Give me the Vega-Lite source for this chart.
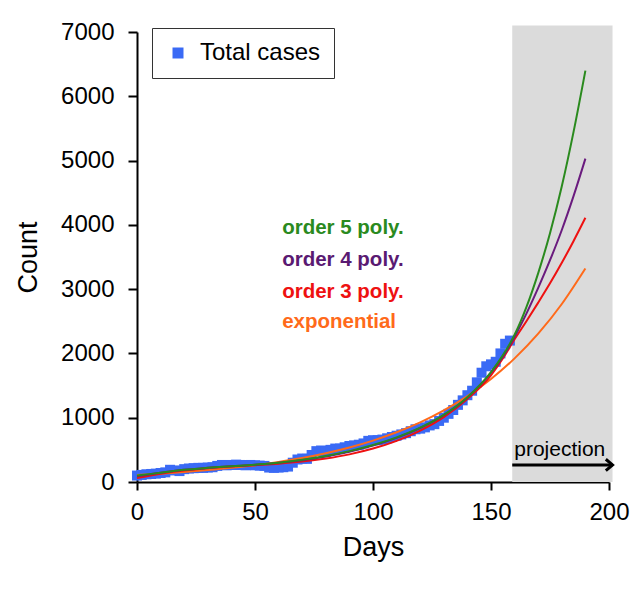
{
  "$schema": "https://vega.github.io/schema/vega-lite/v6.json",
  "autosize": {"type": "none"},
  "width": 472,
  "height": 450,
  "padding": {"left": 137, "top": 32, "right": 33, "bottom": 117},
  "background": "white",
  "config": {
    "font": "Liberation Sans",
    "view": {"stroke": null},
    "scale": {"continuousPadding": 0},
    "axis": {
      "grid": false,
      "labelFlush": false,
      "labelOverlap": false,
      "domainColor": "black",
      "domainWidth": 2,
      "tickColor": "black",
      "tickWidth": 2,
      "labelColor": "black",
      "titleColor": "black",
      "labelFont": "Liberation Sans",
      "titleFont": "Liberation Sans",
      "labelFontSize": 24,
      "titleFontSize": 27,
      "titleFontWeight": "normal"
    }
  },
  "datasets": {
    "shade": [{"x": 159, "x2": 201.5, "y": 0, "y2": 7100}],
    "arrow": [{"x": 159, "x2": 201.5, "y": 265}],
    "cases": [
      {"day": 0, "count": 100}, {"day": 2, "count": 110}, {"day": 4, "count": 120}, {"day": 6, "count": 125}, {"day": 8, "count": 130},
      {"day": 10, "count": 140}, {"day": 12, "count": 150}, {"day": 14, "count": 190}, {"day": 16, "count": 180}, {"day": 18, "count": 170},
      {"day": 20, "count": 200}, {"day": 22, "count": 210}, {"day": 24, "count": 215}, {"day": 26, "count": 220}, {"day": 28, "count": 220},
      {"day": 30, "count": 225}, {"day": 32, "count": 230}, {"day": 34, "count": 250}, {"day": 36, "count": 265}, {"day": 38, "count": 260},
      {"day": 40, "count": 265}, {"day": 42, "count": 270}, {"day": 44, "count": 265}, {"day": 46, "count": 260}, {"day": 48, "count": 265},
      {"day": 50, "count": 260}, {"day": 52, "count": 255}, {"day": 54, "count": 250}, {"day": 56, "count": 225}, {"day": 58, "count": 220},
      {"day": 60, "count": 225}, {"day": 62, "count": 230}, {"day": 64, "count": 240}, {"day": 66, "count": 300}, {"day": 68, "count": 350},
      {"day": 70, "count": 365}, {"day": 72, "count": 360}, {"day": 74, "count": 420}, {"day": 76, "count": 480}, {"day": 78, "count": 490},
      {"day": 80, "count": 470}, {"day": 82, "count": 500}, {"day": 84, "count": 520}, {"day": 86, "count": 520}, {"day": 88, "count": 540},
      {"day": 90, "count": 560}, {"day": 92, "count": 570}, {"day": 94, "count": 580}, {"day": 96, "count": 600}, {"day": 98, "count": 640},
      {"day": 100, "count": 650}, {"day": 102, "count": 650}, {"day": 104, "count": 660}, {"day": 106, "count": 680}, {"day": 108, "count": 700},
      {"day": 110, "count": 720}, {"day": 112, "count": 740}, {"day": 114, "count": 760}, {"day": 116, "count": 790}, {"day": 118, "count": 820},
      {"day": 120, "count": 830}, {"day": 122, "count": 850}, {"day": 124, "count": 880}, {"day": 126, "count": 900}, {"day": 128, "count": 950},
      {"day": 130, "count": 1000}, {"day": 132, "count": 1060}, {"day": 134, "count": 1120}, {"day": 136, "count": 1200}, {"day": 138, "count": 1270},
      {"day": 140, "count": 1350}, {"day": 142, "count": 1420}, {"day": 144, "count": 1550}, {"day": 146, "count": 1700}, {"day": 148, "count": 1800},
      {"day": 150, "count": 1830}, {"day": 152, "count": 1870}, {"day": 154, "count": 2000}, {"day": 156, "count": 2150}, {"day": 158, "count": 2200}
    ],
    "fits": [
      {"fit": "exponential", "day": 0, "count": 110}, {"fit": "exponential", "day": 10, "count": 130}, {"fit": "exponential", "day": 20, "count": 155},
      {"fit": "exponential", "day": 30, "count": 185}, {"fit": "exponential", "day": 40, "count": 220}, {"fit": "exponential", "day": 50, "count": 262},
      {"fit": "exponential", "day": 60, "count": 313}, {"fit": "exponential", "day": 70, "count": 373}, {"fit": "exponential", "day": 80, "count": 447},
      {"fit": "exponential", "day": 90, "count": 537}, {"fit": "exponential", "day": 100, "count": 644}, {"fit": "exponential", "day": 110, "count": 773},
      {"fit": "exponential", "day": 120, "count": 927}, {"fit": "exponential", "day": 130, "count": 1113}, {"fit": "exponential", "day": 140, "count": 1335},
      {"fit": "exponential", "day": 150, "count": 1602}, {"fit": "exponential", "day": 160, "count": 1923}, {"fit": "exponential", "day": 170, "count": 2307},
      {"fit": "exponential", "day": 180, "count": 2769}, {"fit": "exponential", "day": 190, "count": 3322},
      {"fit": "order 3", "day": 0, "count": 60}, {"fit": "order 3", "day": 10, "count": 130}, {"fit": "order 3", "day": 20, "count": 180},
      {"fit": "order 3", "day": 30, "count": 215}, {"fit": "order 3", "day": 40, "count": 240}, {"fit": "order 3", "day": 50, "count": 262},
      {"fit": "order 3", "day": 60, "count": 285}, {"fit": "order 3", "day": 70, "count": 318}, {"fit": "order 3", "day": 80, "count": 365},
      {"fit": "order 3", "day": 90, "count": 430}, {"fit": "order 3", "day": 100, "count": 520}, {"fit": "order 3", "day": 110, "count": 640},
      {"fit": "order 3", "day": 120, "count": 800}, {"fit": "order 3", "day": 130, "count": 1010}, {"fit": "order 3", "day": 140, "count": 1290},
      {"fit": "order 3", "day": 150, "count": 1660}, {"fit": "order 3", "day": 155, "count": 1920}, {"fit": "order 3", "day": 160, "count": 2220},
      {"fit": "order 3", "day": 165, "count": 2500}, {"fit": "order 3", "day": 170, "count": 2790}, {"fit": "order 3", "day": 175, "count": 3090},
      {"fit": "order 3", "day": 180, "count": 3410}, {"fit": "order 3", "day": 185, "count": 3750}, {"fit": "order 3", "day": 190, "count": 4110},
      {"fit": "order 4", "day": 0, "count": 90}, {"fit": "order 4", "day": 10, "count": 145}, {"fit": "order 4", "day": 20, "count": 190},
      {"fit": "order 4", "day": 30, "count": 220}, {"fit": "order 4", "day": 40, "count": 245}, {"fit": "order 4", "day": 50, "count": 268},
      {"fit": "order 4", "day": 60, "count": 298}, {"fit": "order 4", "day": 70, "count": 340}, {"fit": "order 4", "day": 80, "count": 398},
      {"fit": "order 4", "day": 90, "count": 472}, {"fit": "order 4", "day": 100, "count": 566}, {"fit": "order 4", "day": 110, "count": 686},
      {"fit": "order 4", "day": 120, "count": 840}, {"fit": "order 4", "day": 130, "count": 1040}, {"fit": "order 4", "day": 140, "count": 1315},
      {"fit": "order 4", "day": 150, "count": 1700}, {"fit": "order 4", "day": 155, "count": 1950}, {"fit": "order 4", "day": 160, "count": 2260},
      {"fit": "order 4", "day": 165, "count": 2620}, {"fit": "order 4", "day": 170, "count": 3020}, {"fit": "order 4", "day": 175, "count": 3450},
      {"fit": "order 4", "day": 180, "count": 3920}, {"fit": "order 4", "day": 185, "count": 4450}, {"fit": "order 4", "day": 190, "count": 5030},
      {"fit": "order 5", "day": 0, "count": 100}, {"fit": "order 5", "day": 10, "count": 145}, {"fit": "order 5", "day": 20, "count": 190},
      {"fit": "order 5", "day": 30, "count": 220}, {"fit": "order 5", "day": 40, "count": 245}, {"fit": "order 5", "day": 50, "count": 270},
      {"fit": "order 5", "day": 60, "count": 300}, {"fit": "order 5", "day": 70, "count": 345}, {"fit": "order 5", "day": 80, "count": 405},
      {"fit": "order 5", "day": 90, "count": 480}, {"fit": "order 5", "day": 100, "count": 575}, {"fit": "order 5", "day": 110, "count": 695},
      {"fit": "order 5", "day": 120, "count": 845}, {"fit": "order 5", "day": 130, "count": 1045}, {"fit": "order 5", "day": 140, "count": 1320},
      {"fit": "order 5", "day": 150, "count": 1710}, {"fit": "order 5", "day": 155, "count": 1970}, {"fit": "order 5", "day": 160, "count": 2290},
      {"fit": "order 5", "day": 165, "count": 2720}, {"fit": "order 5", "day": 170, "count": 3250}, {"fit": "order 5", "day": 175, "count": 3870},
      {"fit": "order 5", "day": 180, "count": 4600}, {"fit": "order 5", "day": 185, "count": 5450}, {"fit": "order 5", "day": 190, "count": 6400}
    ],
    "labels": [
      {"fit": "order 5", "text": "order 5 poly.", "day": 61.5, "count": 3950},
      {"fit": "order 4", "text": "order 4 poly.", "day": 61.5, "count": 3450},
      {"fit": "order 3", "text": "order 3 poly.", "day": 61.5, "count": 2955},
      {"fit": "exponential", "text": "exponential", "day": 61.5, "count": 2490}
    ]
  },
  "layer": [
    {
      "data": {"name": "shade"},
      "mark": {"type": "rect", "color": "#dbdbdb"},
      "encoding": {
        "x": {"field": "x", "type": "quantitative", "scale": {"domain": [0, 200], "nice": false, "zero": false, "padding": 0},
              "axis": {"title": "Days", "values": [0, 50, 100, 150, 200], "tickSize": 8, "labelPadding": 10, "titlePadding": 10}},
        "x2": {"field": "x2"},
        "y": {"field": "y", "type": "quantitative", "scale": {"domain": [0, 7000], "nice": false, "zero": false, "padding": 0},
              "axis": {"title": "Count", "values": [0, 1000, 2000, 3000, 4000, 5000, 6000, 7000], "format": "d", "tickSize": 9, "labelPadding": 14, "titlePadding": 18}},
        "y2": {"field": "y2"}
      }
    },
    {
      "data": {"name": "cases"},
      "mark": {"type": "point", "shape": "square", "filled": true, "size": 100, "opacity": 1},
      "encoding": {
        "x": {"field": "day", "type": "quantitative"},
        "y": {"field": "count", "type": "quantitative"},
        "color": {
          "datum": "Total cases",
          "scale": {"domain": ["Total cases"], "range": ["#3a6af5"]},
          "legend": {
            "title": null,
            "orient": "none",
            "legendX": 15,
            "legendY": -4,
            "padding": 13,
            "strokeColor": "#333333",
            "fillColor": "white",
            "symbolType": "square",
            "symbolSize": 121,
            "symbolOffset": 1,
            "labelOffset": 10,
            "labelFontSize": 24,
            "labelColor": "black",
            "labelFont": "Liberation Sans"
          }
        }
      }
    },
    {
      "data": {"name": "fits"},
      "mark": {"type": "line", "strokeWidth": 2, "interpolate": "monotone"},
      "encoding": {
        "x": {"field": "day", "type": "quantitative"},
        "y": {"field": "count", "type": "quantitative"},
        "stroke": {
          "field": "fit", "type": "nominal",
          "scale": {"domain": ["exponential", "order 3", "order 4", "order 5"], "range": ["#ff6a1a", "#ee1111", "#6a1b7e", "#2a8a1e"]},
          "legend": null
        }
      }
    },
    {
      "data": {"name": "labels"},
      "mark": {"type": "text", "align": "left", "baseline": "middle", "fontSize": 20.5, "fontWeight": "bold", "font": "Liberation Sans"},
      "encoding": {
        "x": {"field": "day", "type": "quantitative"},
        "y": {"field": "count", "type": "quantitative"},
        "text": {"field": "text"},
        "fill": {
          "field": "fit", "type": "nominal",
          "scale": {"domain": ["exponential", "order 3", "order 4", "order 5"], "range": ["#ff6a1a", "#ee1111", "#5a1a72", "#2a8a1e"]},
          "legend": null
        }
      }
    },
    {
      "data": {"name": "arrow"},
      "mark": {"type": "rule", "color": "black", "strokeWidth": 3},
      "encoding": {
        "x": {"field": "x", "type": "quantitative"},
        "x2": {"field": "x2"},
        "y": {"field": "y", "type": "quantitative"}
      }
    },
    {
      "data": {"name": "arrow"},
      "mark": {"type": "point", "shape": "M-1,-0.85L0,0L-1,0.85", "filled": false, "color": "black", "strokeWidth": 3, "size": 180, "opacity": 1},
      "encoding": {
        "x": {"field": "x2", "type": "quantitative"},
        "y": {"field": "y", "type": "quantitative"}
      }
    },
    {
      "data": {"name": "arrow"},
      "mark": {"type": "text", "text": "projection", "align": "left", "baseline": "bottom", "fontSize": 21, "dy": -5, "dx": 2, "color": "black", "font": "Liberation Sans"},
      "encoding": {
        "x": {"field": "x", "type": "quantitative"},
        "y": {"field": "y", "type": "quantitative"}
      }
    }
  ]
}
